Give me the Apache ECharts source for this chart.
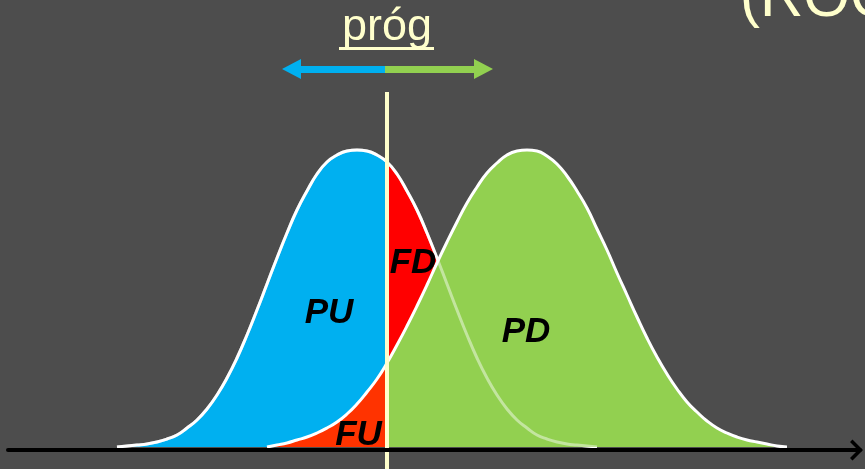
<!DOCTYPE html>
<html>
<head>
<meta charset="utf-8">
<script src="https://cdn.jsdelivr.net/npm/echarts@6/dist/echarts.min.js"></script>
<style>
  html, body { margin: 0; padding: 0; background: #4d4d4d; }
  #chart { width: 865px; height: 469px; }
</style>
</head>
<body>
<div id="chart"></div>
<script>
// Decision threshold on the score axis
const threshold = 387;

// Negative class (blue): score positions and curve heights
const blueX = [117, 127, 137, 147, 157, 167, 177, 187, 197, 207, 217, 227, 237, 247, 257, 267, 277, 287, 297, 307,
  317, 327, 337, 347, 357, 367, 377, 387, 397, 407, 417, 427, 437, 447, 457, 467, 477, 487, 497, 507,
  517, 527, 537, 547, 557, 567, 577, 587, 597];
const blueH = [0, 1, 2, 3, 5, 8, 12, 19, 27, 38, 52, 69, 89, 112, 137, 163, 189, 214, 237, 256,
  273, 285, 292, 296, 297, 296, 292, 285, 273, 256, 237, 214, 189, 163, 137, 112, 89, 69, 52, 38,
  27, 19, 12, 8, 5, 3, 2, 1, 0];

// Positive class (green): score positions and curve heights
const greenX = [267, 277, 287, 297, 307, 317, 327, 337, 347, 357, 367, 377, 387, 397, 407, 417, 427, 437, 447, 457,
  467, 477, 487, 497, 507, 517, 527, 537, 547, 557, 567, 577, 587, 597, 607, 617, 627, 637, 647, 657,
  667, 677, 687, 697, 707, 717, 727, 737, 747, 757, 767, 777, 787];
const greenH = [0, 2, 4, 7, 10, 14, 19, 25, 33, 43, 55, 68, 84, 102, 121, 141, 162, 184, 205, 225,
  244, 260, 274, 284, 292, 296, 297, 296, 291, 283, 271, 256, 239, 218, 197, 174, 152, 130, 109, 90,
  73, 58, 45, 35, 26, 19, 14, 10, 7, 5, 3, 1, 0];

// Region labels
const regionLabels = ['PU', 'FD', 'FU', 'PD'];
const thresholdLabel = 'próg';
const titleText = '(ROC)';

const BLUE = '#00b0f0';
const GREEN = '#92d050';
const RED = '#ff0000';
const ORANGE = '#ff3300';
const CREAM = '#ffffcc';
const FONT = '"Liberation Sans", Arial, Helvetica, sans-serif';

const zip = (xs, hs) => xs.map((x, i) => [x, hs[i]]);
const blueData = zip(blueX, blueH);
const greenData = zip(greenX, greenH);

const chart = echarts.init(document.getElementById('chart'), null, { renderer: 'canvas' });

const labelPos = {
  PU: [329, 313],
  FD: [413, 263.5],
  FU: [358.5, 435],
  PD: [526, 332.5]
};

const option = {
  backgroundColor: '#4d4d4d',
  animation: false,
  grid: { left: 8, right: 5, top: 0, bottom: 22 },
  xAxis: {
    type: 'value',
    min: 8,
    max: 860,
    offset: 3,
    z: 10,
    axisLine: {
      show: true,
      onZero: false,
      lineStyle: { color: '#000000', width: 4 },
      symbol: ['none', 'path://M10.5,0 L21,10.5 L18.5,13 L10.5,5 L2.5,13 L0,10.5 Z'],
      symbolSize: [21, 13],
      symbolOffset: [0, -3.5]
    },
    axisTick: { show: false },
    axisLabel: { show: false },
    splitLine: { show: false }
  },
  yAxis: {
    type: 'value',
    min: 0,
    max: 447,
    show: false,
    splitLine: { show: false }
  },
  series: [
    {
      name: 'negFill', type: 'line', data: blueData, smooth: true, showSymbol: false,
      lineStyle: { width: 0 }, areaStyle: { opacity: 1, color: BLUE }, z: 2, silent: true
    },
    {
      name: 'negEdge', type: 'line', data: blueData, smooth: true, showSymbol: false,
      lineStyle: { color: '#ffffff', width: 3 }, z: 3, silent: true
    },
    {
      name: 'posFill', type: 'line', data: greenData, smooth: true, showSymbol: false,
      lineStyle: { width: 0 }, areaStyle: { opacity: 1, color: GREEN }, z: 4, silent: true
    },
    {
      name: 'posEdge', type: 'line', data: greenData, smooth: true, showSymbol: false,
      lineStyle: { color: '#ffffff', width: 3 }, z: 5, silent: true
    },
    {
      name: 'negEdgeFaint', type: 'line', data: blueData, smooth: true, showSymbol: false,
      lineStyle: { color: 'rgba(255,255,255,0.45)', width: 3 }, z: 6, silent: true
    },
    {
      name: 'threshold', type: 'line', clip: false, showSymbol: false, silent: true, z: 7,
      data: [[threshold, 355], [threshold, -22]],
      lineStyle: { color: CREAM, width: 4 },
      markLine: {
        silent: true,
        animation: false,
        symbol: ['none', 'triangle'],
        symbolSize: [20, 19],
        label: { show: false },
        data: [
          [{ coord: [threshold - 2, 378], lineStyle: { color: BLUE, width: 7, type: 'solid' } },
           { coord: [291.5, 378] }],
          [{ coord: [threshold - 2, 378], lineStyle: { color: GREEN, width: 7, type: 'solid' } },
           { coord: [483.5, 378] }]
        ]
      }
    }
  ],
  graphic: [
    {
      type: 'text', x: 387, y: 27.4, z: 20,
      style: { text: thresholdLabel, fill: CREAM, font: '45px ' + FONT, align: 'center', verticalAlign: 'middle' }
    },
    {
      type: 'rect', z: 20,
      shape: { x: 339, y: 47, width: 95, height: 3 },
      style: { fill: CREAM }
    },
    {
      type: 'text', x: 740, y: -1, z: 20,
      style: { text: titleText, fill: CREAM, font: '60px ' + FONT, align: 'left', verticalAlign: 'middle' }
    }
  ].concat(regionLabels.map(t => ({
    type: 'text', x: labelPos[t][0], y: labelPos[t][1], z: 20,
    style: { text: t, fill: '#000000', font: 'italic bold 35px ' + FONT, align: 'center', verticalAlign: 'middle' }
  })))
};

chart.setOption(option);

// Split each fill colour at the threshold, using the axis scale for the pixel position
const w = chart.getWidth();
const tx = chart.convertToPixel({ xAxisIndex: 0 }, threshold);
const f = Math.min(1, Math.max(0, tx / w));
const splitFill = (left, right) => new echarts.graphic.LinearGradient(0, 0, w, 0, [
  { offset: 0, color: left }, { offset: f, color: left },
  { offset: f, color: right }, { offset: 1, color: right }
], true);

chart.setOption({
  series: [
    { areaStyle: { opacity: 1, color: splitFill(BLUE, RED) } },
    {},
    { areaStyle: { opacity: 1, color: splitFill(ORANGE, GREEN) } }
  ]
});
</script>
</body>
</html>
